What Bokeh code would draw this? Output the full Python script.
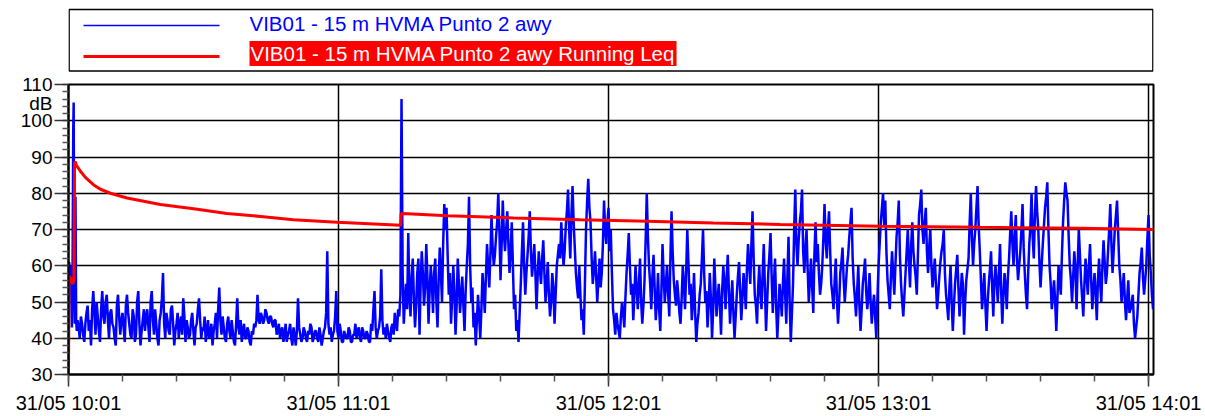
from bokeh.plotting import figure
from bokeh.models import Range1d, FixedTicker, Label, LinearAxis
from bokeh.layouts import column
from bokeh.embed import file_html
from bokeh.resources import INLINE

FONT = "Liberation Sans"

series_names = ["VIB01 - 15 m HVMA Punto 2 awy",
                "VIB01 - 15 m HVMA Punto 2 awy Running Leq"]

# x in minutes after 31/05 10:01
x_tick_minutes = [0, 60, 120, 180, 240]
x_tick_labels = ["31/05 10:01", "31/05 11:01", "31/05 12:01", "31/05 13:01", "31/05 14:01"]
y_ticks = [30, 40, 50, 60, 70, 80, 90, 100, 110]
y_unit = "dB"

# first two minutes (irregular readings)
blue_start_t = [0.0, 0.15, 0.3, 0.45, 0.6, 0.75, 0.9, 1.05, 1.15, 1.25, 1.4, 1.55, 1.7, 1.85]
blue_start_v = [58, 61, 56, 60, 55, 43, 57, 97, 105, 62, 44, 79, 45, 42]

# from 10:03 onward, one reading every 0.25 min
blue_step = 0.25
blue_first = 2.0
blue_quiet = [
    45, 43, 40, 46, 44, 41, 39, 44, 47, 49, 42, 45, 38, 48, 53, 47, 41, 50, 46, 42,
    39, 48, 53, 46, 44, 50, 52, 45, 40, 47, 48, 44, 43, 40, 38, 49, 52, 46, 41, 45,
    47, 43, 39, 49, 52, 47, 44, 41, 40, 48, 46, 39, 41, 50, 53, 44, 38, 42, 45, 48,
    42, 46, 48, 43, 39, 50, 53, 45, 41, 48, 44, 40, 38, 45, 47, 51, 58, 44, 40, 47,
    45, 42, 41, 48, 49, 44, 38, 42, 44, 47, 40, 44, 46, 41, 51, 46, 39, 45, 43, 40,
    41, 45, 47, 42, 38, 43, 44, 48, 51, 45, 40, 43, 42, 46, 39, 42, 45, 40, 41, 44,
    38, 42, 44, 47, 40, 48, 54, 45, 41, 46, 43, 40, 39, 44, 46, 42, 40, 45, 42, 39,
    38, 44, 51, 43, 41, 45, 39, 42, 44, 40, 40, 43, 42, 39, 38, 42, 41, 44, 43, 45,
    52, 45, 44, 47, 46, 44, 45, 48, 47, 45, 44, 46, 46, 44, 43, 45, 45, 41, 42, 44,
    40, 42, 43, 39, 41, 44, 39, 41, 42, 44, 40, 38, 43, 41, 38, 42, 51, 43, 41, 39,
    40, 43, 42, 40, 39, 42, 41, 44, 43, 39, 40, 42, 42, 40, 39, 43, 41, 38, 40, 42,
    43, 47, 64, 44, 41, 43, 39, 41, 42, 46, 53, 42, 40, 44, 42, 39, 39, 42, 41, 40,
    40, 43, 42, 39, 39, 41, 41, 44, 40, 42, 43, 40, 39, 43, 42, 40, 40, 42, 41, 39,
    39, 44, 42, 48, 53, 43, 40, 42, 43, 46, 59, 45, 41, 43, 40, 44, 42, 40, 39, 43,
    44, 41, 47, 44, 42, 48, 46, 52,
]
blue_busy = [
    106, 58, 44, 50, 55, 48, 69, 52, 46, 57, 62, 51, 43, 49, 58, 62, 41, 55, 64, 58,
    49, 54, 66, 57, 44, 53, 60, 55, 47, 58, 62, 50, 43, 56, 65, 58, 50, 66, 77, 70,
    76, 63, 52, 58, 44, 51, 60, 53, 41, 49, 62, 55, 47, 52, 57, 49, 42, 53, 60, 66,
    79, 60, 50, 54, 43, 47, 38, 45, 52, 46, 40, 48, 58, 53, 47, 57, 66, 60, 54, 63,
    74, 65, 60, 63, 68, 72, 80, 70, 56, 66, 78, 69, 64, 70, 75, 66, 58, 64, 72, 60,
    48, 52, 42, 45, 39, 47, 55, 64, 72, 60, 52, 58, 63, 68, 75, 64, 57, 61, 66, 58,
    48, 57, 64, 59, 55, 62, 67, 58, 50, 55, 61, 52, 46, 50, 58, 54, 44, 52, 60, 63,
    66, 62, 72, 66, 60, 64, 71, 75, 81, 70, 62, 74, 82, 72, 65, 58, 54, 51, 60, 52,
    45, 48, 41, 55, 70, 78, 84, 76, 72, 62, 55, 59, 64, 57, 50, 56, 62, 54, 58, 66,
    78, 70, 66, 72, 76, 64, 70, 58, 48, 45, 41, 47, 44, 42, 40, 46, 50, 47, 43, 51,
    58, 63, 69, 60, 52, 55, 45, 52, 60, 54, 48, 55, 62, 50, 44, 49, 56, 67, 80, 68,
    60, 55, 48, 57, 63, 54, 45, 50, 58, 48, 42, 53, 66, 57, 50, 55, 60, 52, 46, 62,
    75, 64, 56, 52, 49, 56, 52, 47, 44, 51, 60, 55, 48, 58, 70, 61, 52, 55, 45, 50,
    58, 47, 39, 44, 47, 52, 55, 62, 70, 58, 50, 53, 43, 49, 58, 51, 40, 48, 62, 54,
    46, 51, 55, 49, 41, 53, 60, 55, 48, 57, 63, 53, 44, 50, 56, 47, 40, 46, 52, 57,
    61, 53, 45, 51, 58, 54, 48, 59, 66, 60, 55, 66, 75, 62, 52, 49, 44, 54, 60, 52,
    48, 58, 66, 54, 42, 50, 58, 63, 69, 57, 47, 55, 62, 49, 40, 47, 55, 51, 46, 55,
    62, 52, 44, 57, 68, 50, 39, 47, 55, 70, 81, 66, 60, 67, 72, 75, 81, 64, 58, 65,
    70, 59, 50, 56, 62, 54, 47, 63, 72, 61, 66, 58, 52, 55, 60, 68, 77, 67, 62, 70,
    75, 64, 55, 52, 48, 56, 62, 51, 44, 50, 58, 61, 65, 56, 50, 55, 60, 63, 68, 72,
    76, 62, 55, 51, 46, 53, 60, 49, 42, 48, 55, 58, 62, 53, 48, 52, 58, 50, 44, 49,
    52, 46, 40, 51, 60, 66, 72, 76, 80, 71, 78, 64, 56, 52, 48, 57, 64, 58, 52, 60,
    68, 72, 78, 63, 55, 50, 46, 52, 58, 64, 70, 61, 54, 66, 72, 64, 60, 57, 52, 63,
    74, 77, 81, 70, 66, 72, 76, 64, 58, 65, 70, 60, 54, 58, 62, 55, 48, 52, 57, 61,
    64, 66, 70, 58, 52, 49, 45, 54, 60, 50, 42, 49, 55, 59, 63, 54, 46, 52, 58, 55,
    41, 50, 56, 59, 62, 72, 80, 68, 60, 66, 70, 76, 82, 71, 64, 56, 48, 53, 58, 49,
    42, 50, 55, 59, 64, 54, 46, 56, 60, 55, 50, 58, 66, 53, 44, 52, 58, 54, 48, 57,
    62, 69, 75, 66, 60, 68, 74, 62, 56, 60, 64, 70, 77, 65, 58, 52, 48, 58, 66, 71,
    80, 68, 62, 74, 82, 75, 70, 61, 54, 60, 66, 71, 76, 79, 83, 70, 60, 55, 48, 52,
    56, 50, 42, 51, 60, 56, 52, 63, 72, 78, 83, 80, 78, 68, 60, 56, 50, 57, 64, 59,
    48, 60, 70, 63, 56, 51, 46, 55, 62, 57, 52, 60, 66, 56, 48, 54, 58, 52, 45, 56,
    62, 55, 50, 60, 67, 61, 55, 58, 64, 70, 77, 66, 58, 64, 70, 74, 78, 69, 60, 56,
    50, 54, 58, 50, 45, 51, 56, 47, 48, 50, 52, 44, 40, 43, 46, 52, 58, 61, 65, 57,
    52, 56, 60, 68, 74, 63, 58, 52, 48,
]

red_t = [0.0, 0.1, 0.5, 0.9, 1.2, 1.35, 1.5, 1.8, 2.7, 3.8, 5.6, 7.1, 9.3, 13.0, 20.4,
         27.8, 35.2, 42.7, 50.0, 59.7, 73.8, 73.9, 74.2, 84.2, 98.9, 113.8, 128.6,
         143.3, 158.2, 180.4, 202.7, 224.9, 241.1]
red_db = [30, 57, 56.5, 55, 56, 88.5, 88.7, 87.6, 86.0, 84.3, 82.3, 81.1, 80.0, 78.7,
          76.9, 75.7, 74.4, 73.6, 72.7, 72.0, 71.2, 74.3, 74.4, 73.8, 73.2, 72.7, 72.3,
          71.8, 71.4, 70.9, 70.6, 70.35, 70.0]

blue_v = blue_start_v + blue_quiet + blue_busy
blue_t = blue_start_t + [blue_first + blue_step * i
                         for i in range(len(blue_quiet) + len(blue_busy))]

# ---------------- main chart ----------------
p = figure(width=1205, height=344, x_range=Range1d(0, 241.1), y_range=Range1d(30, 110),
           output_backend="svg", toolbar_location=None,
           min_border_left=68, min_border_right=52, min_border_top=12, min_border_bottom=40)
p.background_fill_color = "white"
p.border_fill_color = "white"
p.outline_line_color = "black"
p.outline_line_width = 2

p.line(blue_t, blue_v, line_color="#0000ff", line_width=2.5)
p.line(red_t, red_db, line_color="#ff0000", line_width=3)

# x axis
xa = p.xaxis[0]
xa.ticker = FixedTicker(ticks=x_tick_minutes, minor_ticks=list(range(0, 241, 12)))
xa.major_label_overrides = {t: l for t, l in zip(x_tick_minutes, x_tick_labels)}
xa.axis_line_color = "black"
xa.axis_line_width = 2
xa.major_tick_line_color = "#333333"
xa.minor_tick_line_color = "#555555"
xa.major_tick_line_width = 1.5
xa.minor_tick_line_width = 1.5
xa.major_tick_in = 0
xa.minor_tick_in = 0
xa.major_tick_out = 12
xa.minor_tick_out = 7
xa.major_label_text_font = FONT
xa.major_label_text_font_size = "20px"
xa.major_label_text_color = "black"
xa.major_label_standoff = 5

# left side, innermost: axis line and the 2 dB marks
ya = p.yaxis[0]
ya.ticker = FixedTicker(ticks=[], minor_ticks=list(range(30, 111, 2)))
ya.axis_line_color = "black"
ya.axis_line_width = 2
ya.major_tick_in = 0
ya.major_tick_out = 0
ya.minor_tick_in = 0
ya.minor_tick_out = 6
ya.minor_tick_line_color = "#555555"
ya.minor_tick_line_width = 1.5
ya.major_label_standoff = 0

# next: the longer 10 dB marks, reaching back to the frame
mark_axis = LinearAxis(
    ticker=FixedTicker(ticks=[], minor_ticks=y_ticks),
    axis_line_color=None, major_tick_in=0, major_tick_out=0,
    minor_tick_in=6, minor_tick_out=8,
    minor_tick_line_color="#333333", minor_tick_line_width=1.5,
    major_label_standoff=0)
p.add_layout(mark_axis, "left")

# outer: the tick labels plus the unit
unit_pos = 104.8
label_axis = LinearAxis(
    ticker=FixedTicker(ticks=y_ticks + [unit_pos], minor_ticks=[]),
    major_label_overrides={unit_pos: y_unit},
    axis_line_color=None, major_tick_line_color=None, minor_tick_line_color=None,
    major_tick_out=0, major_tick_in=0, minor_tick_out=0, minor_tick_in=0,
    major_label_standoff=2, major_label_text_font=FONT,
    major_label_text_font_size="19px", major_label_text_color="black")
p.add_layout(label_axis, "left")

p.xgrid.ticker = FixedTicker(ticks=x_tick_minutes)
p.ygrid.ticker = FixedTicker(ticks=y_ticks)
p.grid.grid_line_color = "black"
p.grid.grid_line_width = 1.5

# ---------------- legend panel (frame aligned with the chart frame: 68..1153 px) -----
leg = figure(width=1205, height=72, x_range=Range1d(68, 1153), y_range=Range1d(72, 0),
             output_backend="svg", toolbar_location=None, min_border=0)
leg.axis.visible = False
leg.grid.visible = False
leg.outline_line_color = None
leg.background_fill_color = "white"
leg.border_fill_color = "white"
leg.quad(left=[68.6], right=[1152.4], top=[9], bottom=[70.5], fill_color=None,
         line_color="black", line_width=1.5)
leg.segment(x0=[83], y0=[25], x1=[219], y1=[25], line_color="#0000ff", line_width=1.5)
leg.segment(x0=[83], y0=[56], x1=[219], y1=[56], line_color="#ff0000", line_width=3)
leg.add_layout(Label(x=249, y=23, text=series_names[0], text_color="#0000ff",
                     text_font=FONT, text_font_size="20.5px", text_baseline="middle"))
leg.add_layout(Label(x=249, y=53, text=series_names[1], text_color="white",
                     text_font=FONT, text_font_size="20.5px", text_baseline="middle",
                     background_fill_color="#ff0000", padding=1))

layout = column(leg, p, spacing=0)
open("out.html", "w").write(file_html(layout, INLINE))
